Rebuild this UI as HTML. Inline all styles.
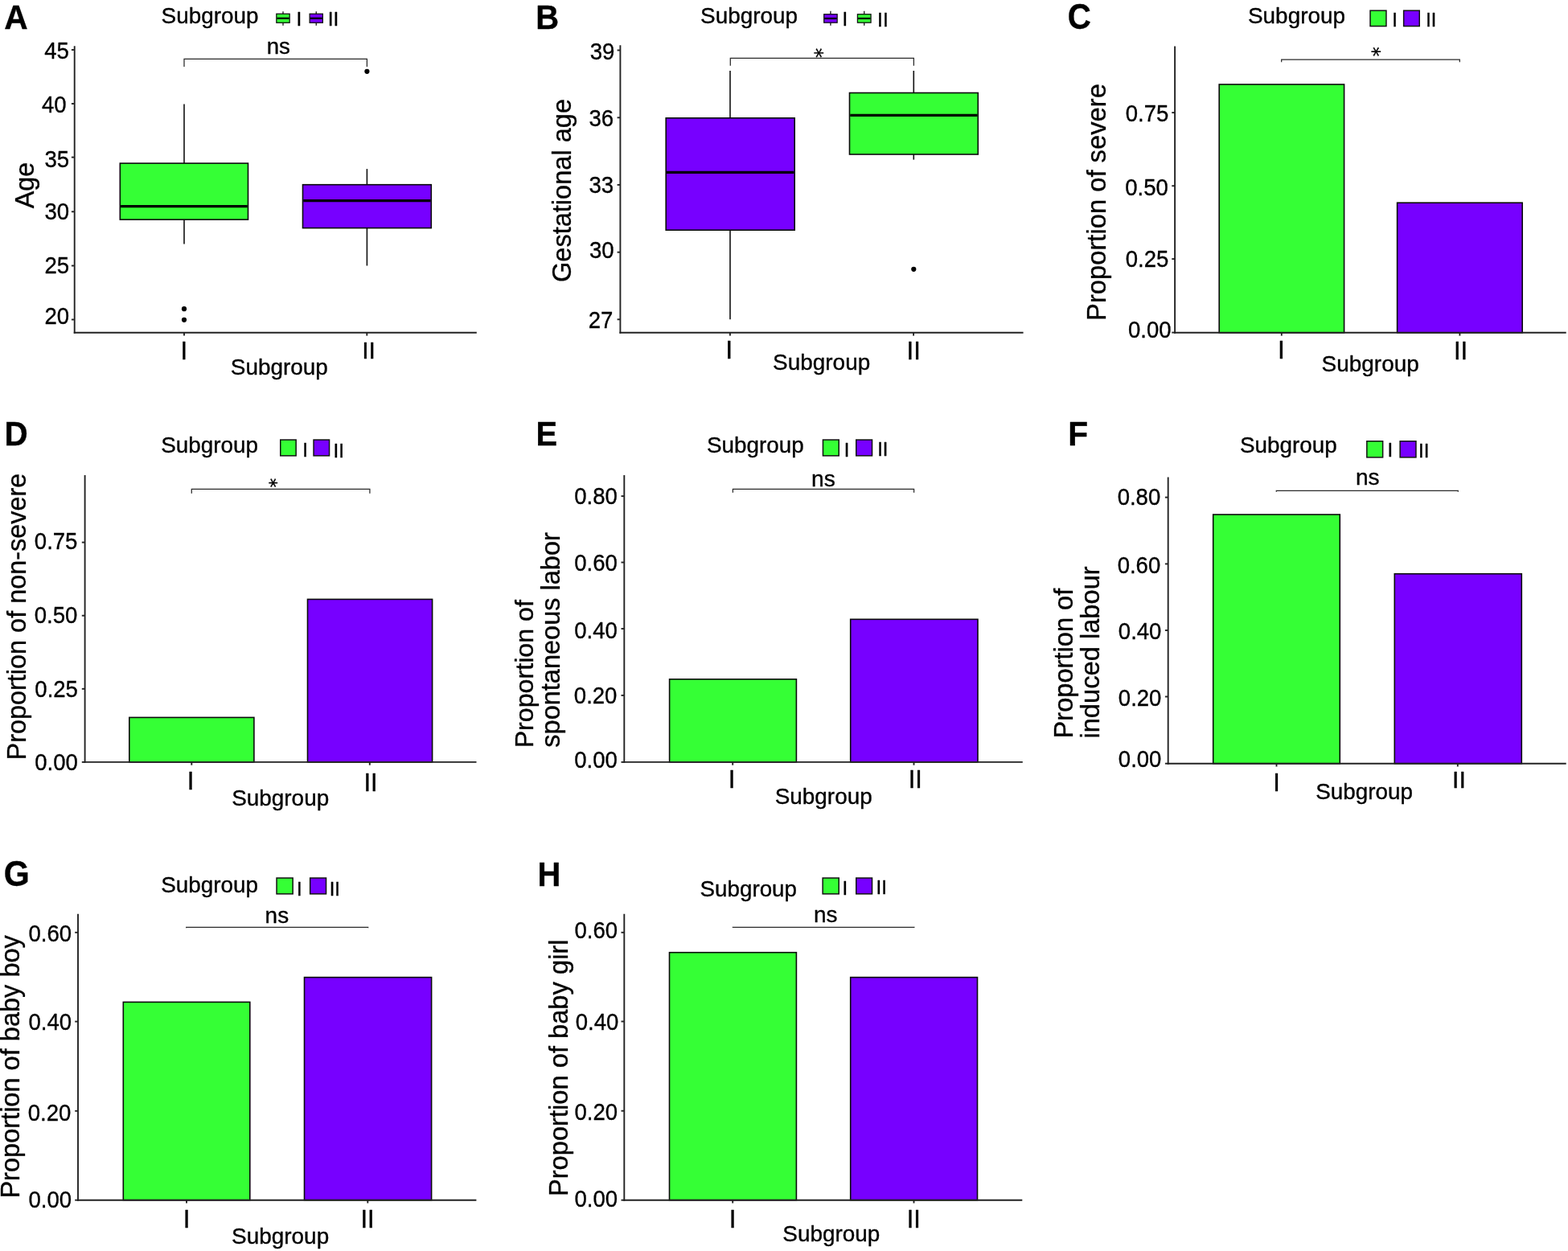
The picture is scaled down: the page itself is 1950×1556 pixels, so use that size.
<!DOCTYPE html>
<html><head><meta charset="utf-8"><title>Figure</title><style>html,body{margin:0;padding:0;background:#fff;overflow:hidden;}svg{display:block;}text{stroke:#000;stroke-width:0.35px;stroke-linejoin:round;font-kerning:none;font-family:"Liberation Sans",Arial,sans-serif;}</style></head><body>
<svg width="1950" height="1556" viewBox="0 0 1950 1556" font-family="'Liberation Sans', Arial, sans-serif" fill="#000">
<rect width="1950" height="1556" fill="#fff"/>
<g id="panelA">
<line x1="229.00" y1="129.60" x2="229.00" y2="203.10" stroke="#111" stroke-width="1.6"/>
<line x1="229.00" y1="273.10" x2="229.00" y2="303.50" stroke="#111" stroke-width="1.6"/>
<rect x="149.30" y="203.10" width="159.20" height="70.00" fill="#35FF35" stroke="#0a0a0a" stroke-width="1.6"/>
<line x1="150.10" y1="256.70" x2="307.70" y2="256.70" stroke="#000" stroke-width="3.2"/>
<circle cx="229.00" cy="384.20" r="3.1" fill="#000"/>
<circle cx="229.00" cy="397.80" r="3.1" fill="#000"/>
<line x1="456.40" y1="210.10" x2="456.40" y2="229.70" stroke="#111" stroke-width="1.6"/>
<line x1="456.40" y1="283.60" x2="456.40" y2="330.50" stroke="#111" stroke-width="1.6"/>
<rect x="376.50" y="229.70" width="159.80" height="53.90" fill="#7700FF" stroke="#0a0a0a" stroke-width="1.6"/>
<line x1="377.30" y1="249.70" x2="535.50" y2="249.70" stroke="#000" stroke-width="3.2"/>
<circle cx="456.40" cy="88.80" r="3.1" fill="#000"/>
<line x1="92.70" y1="57.20" x2="92.70" y2="414.75" stroke="#222" stroke-width="1.9"/>
<line x1="91.75" y1="413.80" x2="592.80" y2="413.80" stroke="#222" stroke-width="1.9"/>
<line x1="88.90" y1="62.00" x2="92.70" y2="62.00" stroke="#222" stroke-width="1.9"/>
<text transform="translate(55.30,72.92) scale(0.9570,1)" font-size="28.80">45</text>
<line x1="88.90" y1="129.00" x2="92.70" y2="129.00" stroke="#222" stroke-width="1.9"/>
<text transform="translate(51.92,139.76) scale(0.9570,1)" font-size="28.80">40</text>
<line x1="88.90" y1="195.60" x2="92.70" y2="195.60" stroke="#222" stroke-width="1.9"/>
<text transform="translate(55.50,208.06) scale(0.9570,1)" font-size="28.80">35</text>
<line x1="88.90" y1="263.30" x2="92.70" y2="263.30" stroke="#222" stroke-width="1.9"/>
<text transform="translate(55.42,272.86) scale(0.9570,1)" font-size="28.80">30</text>
<line x1="88.90" y1="330.50" x2="92.70" y2="330.50" stroke="#222" stroke-width="1.9"/>
<text transform="translate(55.50,339.56) scale(0.9570,1)" font-size="28.80">25</text>
<line x1="88.90" y1="397.50" x2="92.70" y2="397.50" stroke="#222" stroke-width="1.9"/>
<text transform="translate(55.42,403.16) scale(0.9570,1)" font-size="28.80">20</text>
<line x1="229.00" y1="413.80" x2="229.00" y2="417.60" stroke="#222" stroke-width="1.9"/>
<line x1="456.30" y1="413.80" x2="456.30" y2="417.60" stroke="#222" stroke-width="1.9"/>
<text x="224.41" y="447.22" font-size="30.89">I</text>
<text x="450.22" y="446.02" font-size="30.16">II</text>
<path d="M229.00,82.90 L229.00,73.40 L456.40,73.40 L456.40,82.90" fill="none" stroke="#2a2a2a" stroke-width="1.25"/>
<text transform="translate(331.74,66.96) scale(1.0263,1)" font-size="26.92">ns</text>
<text transform="translate(200.61,28.64) scale(1.0169,1)" font-size="27.41">Subgroup</text>
<line x1="352.00" y1="14.20" x2="352.00" y2="31.80" stroke="#111" stroke-width="1.3"/>
<rect x="343.85" y="17.25" width="16.30" height="11.00" fill="#35FF35" stroke="#111" stroke-width="1.3"/>
<line x1="344.40" y1="22.75" x2="359.60" y2="22.75" stroke="#000" stroke-width="2.2"/>
<text x="368.50" y="32.43" font-size="24.49">I</text>
<line x1="393.25" y1="14.20" x2="393.25" y2="31.80" stroke="#111" stroke-width="1.3"/>
<rect x="385.15" y="17.25" width="16.20" height="11.00" fill="#7700FF" stroke="#111" stroke-width="1.3"/>
<line x1="385.70" y1="22.75" x2="400.80" y2="22.75" stroke="#000" stroke-width="2.2"/>
<text x="407.65" y="32.43" font-size="24.49">II</text>
<text transform="translate(5.36,35.73) scale(0.9427,1)" font-size="43.24" font-weight="bold">A</text>
<text transform="translate(286.81,465.54) scale(1.0178,1)" font-size="27.41">Subgroup</text>
<text transform="translate(42.40,259.29) rotate(-90)" font-size="32.29">Age</text>
</g>
<g id="panelB">
<line x1="908.00" y1="88.00" x2="908.00" y2="146.80" stroke="#111" stroke-width="1.6"/>
<line x1="908.00" y1="286.20" x2="908.00" y2="397.20" stroke="#111" stroke-width="1.6"/>
<rect x="828.20" y="146.80" width="160.00" height="139.40" fill="#7700FF" stroke="#0a0a0a" stroke-width="1.6"/>
<line x1="829.00" y1="214.40" x2="987.40" y2="214.40" stroke="#000" stroke-width="3.2"/>
<line x1="1136.30" y1="88.00" x2="1136.30" y2="115.50" stroke="#111" stroke-width="1.6"/>
<line x1="1136.30" y1="192.00" x2="1136.30" y2="198.60" stroke="#111" stroke-width="1.6"/>
<rect x="1056.50" y="115.50" width="159.80" height="76.50" fill="#35FF35" stroke="#0a0a0a" stroke-width="1.6"/>
<line x1="1057.30" y1="143.40" x2="1215.50" y2="143.40" stroke="#000" stroke-width="3.2"/>
<circle cx="1136.30" cy="334.80" r="3.1" fill="#000"/>
<line x1="771.40" y1="56.30" x2="771.40" y2="414.75" stroke="#222" stroke-width="1.9"/>
<line x1="770.45" y1="413.80" x2="1272.60" y2="413.80" stroke="#222" stroke-width="1.9"/>
<line x1="767.60" y1="62.50" x2="771.40" y2="62.50" stroke="#222" stroke-width="1.9"/>
<text transform="translate(733.75,74.16) scale(0.9570,1)" font-size="28.80">39</text>
<line x1="767.60" y1="146.30" x2="771.40" y2="146.30" stroke="#222" stroke-width="1.9"/>
<text transform="translate(732.45,157.16) scale(0.9570,1)" font-size="28.80">36</text>
<line x1="767.60" y1="229.90" x2="771.40" y2="229.90" stroke="#222" stroke-width="1.9"/>
<text transform="translate(732.45,240.36) scale(0.9570,1)" font-size="28.80">33</text>
<line x1="767.60" y1="313.70" x2="771.40" y2="313.70" stroke="#222" stroke-width="1.9"/>
<text transform="translate(732.92,321.06) scale(0.9570,1)" font-size="28.80">30</text>
<line x1="767.60" y1="397.30" x2="771.40" y2="397.30" stroke="#222" stroke-width="1.9"/>
<text transform="translate(731.63,407.50) scale(0.9570,1)" font-size="28.80">27</text>
<line x1="907.90" y1="413.80" x2="907.90" y2="417.60" stroke="#222" stroke-width="1.9"/>
<line x1="1136.10" y1="413.80" x2="1136.10" y2="417.60" stroke="#222" stroke-width="1.9"/>
<text x="902.32" y="445.72" font-size="31.90">I</text>
<text x="1127.54" y="446.72" font-size="31.18">II</text>
<path d="M908.30,81.70 L908.30,72.40 L1136.40,72.40 L1136.40,81.70" fill="none" stroke="#2a2a2a" stroke-width="1.25"/>
<text transform="translate(1018.80,65.85) rotate(90)" x="-6.13" y="12.61" font-size="24.53" style="font-family:'DejaVu Sans',sans-serif">*</text>
<text transform="translate(871.11,29.08) scale(1.0249,1)" font-size="27.20">Subgroup</text>
<line x1="1032.95" y1="13.80" x2="1032.95" y2="31.80" stroke="#111" stroke-width="1.3"/>
<rect x="1024.75" y="17.75" width="16.40" height="10.40" fill="#7700FF" stroke="#111" stroke-width="1.3"/>
<line x1="1025.30" y1="22.95" x2="1040.60" y2="22.95" stroke="#000" stroke-width="2.2"/>
<text x="1047.56" y="32.12" font-size="24.06">I</text>
<line x1="1074.75" y1="13.80" x2="1074.75" y2="31.80" stroke="#111" stroke-width="1.3"/>
<rect x="1066.45" y="17.75" width="16.60" height="10.40" fill="#35FF35" stroke="#111" stroke-width="1.3"/>
<line x1="1067.00" y1="22.95" x2="1082.50" y2="22.95" stroke="#000" stroke-width="2.2"/>
<text x="1091.10" y="33.43" font-size="24.49">II</text>
<text transform="translate(666.30,35.53) scale(0.9233,1)" font-size="43.24" font-weight="bold">B</text>
<text transform="translate(961.11,460.16) scale(1.0226,1)" font-size="27.30">Subgroup</text>
<text transform="translate(710.10,351.06) rotate(-90)" font-size="32.57">Gestational age</text>
</g>
<g id="panelC">
<rect x="1516.20" y="105.00" width="155.40" height="308.80" fill="#35FF35" stroke="#0a0a0a" stroke-width="1.6"/>
<rect x="1737.60" y="252.20" width="155.60" height="161.60" fill="#7700FF" stroke="#0a0a0a" stroke-width="1.6"/>
<line x1="1461.10" y1="57.40" x2="1461.10" y2="414.75" stroke="#222" stroke-width="1.9"/>
<line x1="1460.15" y1="413.80" x2="1947.70" y2="413.80" stroke="#222" stroke-width="1.9"/>
<line x1="1457.30" y1="413.60" x2="1461.10" y2="413.60" stroke="#222" stroke-width="1.9"/>
<text transform="translate(1402.93,419.91) scale(0.9570,1)" font-size="28.80">0.00</text>
<line x1="1457.30" y1="322.10" x2="1461.10" y2="322.10" stroke="#222" stroke-width="1.9"/>
<text transform="translate(1399.71,332.21) scale(0.9570,1)" font-size="28.80">0.25</text>
<line x1="1457.30" y1="231.20" x2="1461.10" y2="231.20" stroke="#222" stroke-width="1.9"/>
<text transform="translate(1399.23,242.86) scale(0.9570,1)" font-size="28.80">0.50</text>
<line x1="1457.30" y1="140.10" x2="1461.10" y2="140.10" stroke="#222" stroke-width="1.9"/>
<text transform="translate(1399.71,150.51) scale(0.9570,1)" font-size="28.80">0.75</text>
<line x1="1593.80" y1="413.80" x2="1593.80" y2="417.60" stroke="#222" stroke-width="1.9"/>
<line x1="1815.40" y1="413.80" x2="1815.40" y2="417.60" stroke="#222" stroke-width="1.9"/>
<text x="1589.02" y="445.72" font-size="31.90">I</text>
<text x="1807.89" y="446.72" font-size="31.18">II</text>
<path d="M1593.70,77.30 L1593.70,74.00 L1815.30,74.00 L1815.30,77.30" fill="none" stroke="#2a2a2a" stroke-width="1.25"/>
<text transform="translate(1711.00,64.15) rotate(90)" x="-6.02" y="12.39" font-size="24.09" style="font-family:'DejaVu Sans',sans-serif">*</text>
<text transform="translate(1552.01,29.17) scale(1.0422,1)" font-size="26.77">Subgroup</text>
<rect x="1704.05" y="13.15" width="19.90" height="19.40" fill="#35FF35" stroke="#111" stroke-width="1.5"/>
<text x="1731.33" y="32.93" font-size="23.91">I</text>
<rect x="1745.65" y="13.15" width="19.60" height="19.40" fill="#7700FF" stroke="#111" stroke-width="1.5"/>
<text x="1773.32" y="32.53" font-size="23.33">II</text>
<text transform="translate(1327.82,36.29) scale(0.9073,1)" font-size="44.42" font-weight="bold">C</text>
<text transform="translate(1643.61,461.77) scale(1.0440,1)" font-size="26.77">Subgroup</text>
<text transform="translate(1374.50,398.91) rotate(-90)" font-size="32.74">Proportion of severe</text>
</g>
<g id="panelD">
<rect x="160.80" y="892.40" width="155.10" height="55.50" fill="#35FF35" stroke="#0a0a0a" stroke-width="1.6"/>
<rect x="382.50" y="745.40" width="155.10" height="202.50" fill="#7700FF" stroke="#0a0a0a" stroke-width="1.6"/>
<line x1="105.60" y1="591.00" x2="105.60" y2="948.85" stroke="#222" stroke-width="1.9"/>
<line x1="104.65" y1="947.90" x2="592.50" y2="947.90" stroke="#222" stroke-width="1.9"/>
<line x1="101.80" y1="674.60" x2="105.60" y2="674.60" stroke="#222" stroke-width="1.9"/>
<text transform="translate(42.81,683.16) scale(0.9570,1)" font-size="28.80">0.75</text>
<line x1="101.80" y1="765.70" x2="105.60" y2="765.70" stroke="#222" stroke-width="1.9"/>
<text transform="translate(42.73,775.46) scale(0.9570,1)" font-size="28.80">0.50</text>
<line x1="101.80" y1="856.80" x2="105.60" y2="856.80" stroke="#222" stroke-width="1.9"/>
<text transform="translate(43.31,867.11) scale(0.9570,1)" font-size="28.80">0.25</text>
<line x1="101.80" y1="947.90" x2="105.60" y2="947.90" stroke="#222" stroke-width="1.9"/>
<text transform="translate(43.23,957.76) scale(0.9570,1)" font-size="28.80">0.00</text>
<line x1="238.30" y1="947.90" x2="238.30" y2="951.70" stroke="#222" stroke-width="1.9"/>
<line x1="459.80" y1="947.90" x2="459.80" y2="951.70" stroke="#222" stroke-width="1.9"/>
<text x="232.67" y="981.73" font-size="31.18">I</text>
<text x="452.51" y="984.43" font-size="30.74">II</text>
<path d="M238.30,613.70 L238.30,608.30 L459.90,608.30 L459.90,613.70" fill="none" stroke="#2a2a2a" stroke-width="1.25"/>
<text transform="translate(339.70,600.45) rotate(90)" x="-5.80" y="11.92" font-size="23.19" style="font-family:'DejaVu Sans',sans-serif">*</text>
<text transform="translate(200.21,563.41) scale(1.0121,1)" font-size="27.52">Subgroup</text>
<rect x="348.75" y="547.05" width="19.40" height="19.80" fill="#35FF35" stroke="#111" stroke-width="1.5"/>
<text x="376.13" y="568.23" font-size="23.91">I</text>
<rect x="390.05" y="547.05" width="19.50" height="19.80" fill="#7700FF" stroke="#111" stroke-width="1.5"/>
<text x="414.59" y="568.53" font-size="24.35">II</text>
<text transform="translate(5.42,553.58) scale(0.9463,1)" font-size="42.73" font-weight="bold">D</text>
<text transform="translate(288.21,1001.90) scale(1.0299,1)" font-size="27.09">Subgroup</text>
<text transform="translate(31.80,945.49) rotate(-90)" font-size="32.43">Proportion of non-severe</text>
</g>
<g id="panelE">
<rect x="832.60" y="844.80" width="157.80" height="103.10" fill="#35FF35" stroke="#0a0a0a" stroke-width="1.6"/>
<rect x="1057.70" y="770.30" width="158.30" height="177.60" fill="#7700FF" stroke="#0a0a0a" stroke-width="1.6"/>
<line x1="776.30" y1="591.00" x2="776.30" y2="948.85" stroke="#222" stroke-width="1.9"/>
<line x1="775.35" y1="947.90" x2="1271.80" y2="947.90" stroke="#222" stroke-width="1.9"/>
<line x1="772.50" y1="617.10" x2="776.30" y2="617.10" stroke="#222" stroke-width="1.9"/>
<text transform="translate(714.23,627.31) scale(0.9570,1)" font-size="28.80">0.80</text>
<line x1="772.50" y1="699.50" x2="776.30" y2="699.50" stroke="#222" stroke-width="1.9"/>
<text transform="translate(714.23,710.06) scale(0.9570,1)" font-size="28.80">0.60</text>
<line x1="772.50" y1="782.00" x2="776.30" y2="782.00" stroke="#222" stroke-width="1.9"/>
<text transform="translate(714.23,793.56) scale(0.9570,1)" font-size="28.80">0.40</text>
<line x1="772.50" y1="864.90" x2="776.30" y2="864.90" stroke="#222" stroke-width="1.9"/>
<text transform="translate(713.83,874.66) scale(0.9570,1)" font-size="28.80">0.20</text>
<line x1="772.50" y1="947.90" x2="776.30" y2="947.90" stroke="#222" stroke-width="1.9"/>
<text transform="translate(714.23,955.16) scale(0.9570,1)" font-size="28.80">0.00</text>
<line x1="911.20" y1="947.90" x2="911.20" y2="951.70" stroke="#222" stroke-width="1.9"/>
<line x1="1136.50" y1="947.90" x2="1136.50" y2="951.70" stroke="#222" stroke-width="1.9"/>
<text x="905.82" y="979.73" font-size="31.18">I</text>
<text x="1129.71" y="980.33" font-size="30.74">II</text>
<path d="M911.40,612.70 L911.40,608.30 L1136.60,608.30 L1136.60,612.70" fill="none" stroke="#2a2a2a" stroke-width="1.25"/>
<text transform="translate(1009.01,604.56) scale(1.0458,1)" font-size="26.92">ns</text>
<text transform="translate(878.91,563.41) scale(1.0121,1)" font-size="27.52">Subgroup</text>
<rect x="1023.45" y="547.05" width="19.80" height="19.80" fill="#35FF35" stroke="#111" stroke-width="1.5"/>
<text x="1049.87" y="567.53" font-size="23.62">I</text>
<rect x="1064.75" y="547.05" width="19.80" height="19.80" fill="#7700FF" stroke="#111" stroke-width="1.5"/>
<text x="1091.20" y="566.53" font-size="23.76">II</text>
<text transform="translate(666.47,553.58) scale(0.9339,1)" font-size="42.73" font-weight="bold">E</text>
<text transform="translate(963.71,999.63) scale(1.0340,1)" font-size="26.98">Subgroup</text>
<text transform="translate(662.90,930.36) rotate(-90)" font-size="32.18">Proportion of</text>
<text transform="translate(695.80,929.63) rotate(-90)" font-size="32.50">spontaneous labor</text>
</g>
<g id="panelF">
<rect x="1508.70" y="640.00" width="157.60" height="309.70" fill="#35FF35" stroke="#0a0a0a" stroke-width="1.6"/>
<rect x="1734.30" y="713.70" width="158.00" height="236.00" fill="#7700FF" stroke="#0a0a0a" stroke-width="1.6"/>
<line x1="1452.70" y1="593.40" x2="1452.70" y2="950.65" stroke="#222" stroke-width="1.9"/>
<line x1="1451.75" y1="949.70" x2="1947.70" y2="949.70" stroke="#222" stroke-width="1.9"/>
<line x1="1448.90" y1="618.60" x2="1452.70" y2="618.60" stroke="#222" stroke-width="1.9"/>
<text transform="translate(1389.63,628.01) scale(0.9570,1)" font-size="28.80">0.80</text>
<line x1="1448.90" y1="701.40" x2="1452.70" y2="701.40" stroke="#222" stroke-width="1.9"/>
<text transform="translate(1389.63,712.51) scale(0.9570,1)" font-size="28.80">0.60</text>
<line x1="1448.90" y1="784.00" x2="1452.70" y2="784.00" stroke="#222" stroke-width="1.9"/>
<text transform="translate(1390.83,794.86) scale(0.9570,1)" font-size="28.80">0.40</text>
<line x1="1448.90" y1="866.50" x2="1452.70" y2="866.50" stroke="#222" stroke-width="1.9"/>
<text transform="translate(1390.83,877.56) scale(0.9570,1)" font-size="28.80">0.20</text>
<line x1="1448.90" y1="949.70" x2="1452.70" y2="949.70" stroke="#222" stroke-width="1.9"/>
<text transform="translate(1390.83,953.86) scale(0.9570,1)" font-size="28.80">0.00</text>
<line x1="1587.50" y1="949.70" x2="1587.50" y2="953.50" stroke="#222" stroke-width="1.9"/>
<line x1="1812.80" y1="949.70" x2="1812.80" y2="953.50" stroke="#222" stroke-width="1.9"/>
<text x="1583.36" y="983.73" font-size="30.89">I</text>
<text x="1806.08" y="980.03" font-size="30.31">II</text>
<path d="M1587.30,611.70 L1587.30,610.30 L1813.30,610.30 L1813.30,611.70" fill="none" stroke="#2a2a2a" stroke-width="1.25"/>
<text transform="translate(1685.91,602.56) scale(1.0280,1)" font-size="27.29">ns</text>
<text transform="translate(1542.01,563.41) scale(1.0112,1)" font-size="27.52">Subgroup</text>
<rect x="1699.85" y="548.75" width="19.80" height="20.10" fill="#35FF35" stroke="#111" stroke-width="1.5"/>
<text x="1725.59" y="567.53" font-size="24.20">I</text>
<rect x="1741.15" y="548.75" width="19.80" height="20.10" fill="#7700FF" stroke="#111" stroke-width="1.5"/>
<text x="1763.97" y="568.73" font-size="24.06">II</text>
<text transform="translate(1328.25,553.58) scale(0.9525,1)" font-size="42.73" font-weight="bold">F</text>
<text transform="translate(1636.21,994.07) scale(1.0405,1)" font-size="26.77">Subgroup</text>
<text transform="translate(1334.20,918.40) rotate(-90)" font-size="32.62">Proportion of</text>
<text transform="translate(1367.20,918.61) rotate(-90)" font-size="32.68">induced labour</text>
</g>
<g id="panelG">
<rect x="153.30" y="1246.40" width="157.50" height="246.30" fill="#35FF35" stroke="#0a0a0a" stroke-width="1.6"/>
<rect x="378.50" y="1215.60" width="158.10" height="277.10" fill="#7700FF" stroke="#0a0a0a" stroke-width="1.6"/>
<line x1="97.00" y1="1136.80" x2="97.00" y2="1493.65" stroke="#222" stroke-width="1.9"/>
<line x1="96.05" y1="1492.70" x2="592.40" y2="1492.70" stroke="#222" stroke-width="1.9"/>
<line x1="93.20" y1="1159.80" x2="97.00" y2="1159.80" stroke="#222" stroke-width="1.9"/>
<text transform="translate(35.43,1170.81) scale(0.9570,1)" font-size="28.80">0.60</text>
<line x1="93.20" y1="1270.60" x2="97.00" y2="1270.60" stroke="#222" stroke-width="1.9"/>
<text transform="translate(35.43,1281.06) scale(0.9570,1)" font-size="28.80">0.40</text>
<line x1="93.20" y1="1381.80" x2="97.00" y2="1381.80" stroke="#222" stroke-width="1.9"/>
<text transform="translate(34.73,1393.51) scale(0.9570,1)" font-size="28.80">0.20</text>
<line x1="93.20" y1="1492.70" x2="97.00" y2="1492.70" stroke="#222" stroke-width="1.9"/>
<text transform="translate(35.43,1502.31) scale(0.9570,1)" font-size="28.80">0.00</text>
<line x1="232.00" y1="1492.70" x2="232.00" y2="1496.50" stroke="#222" stroke-width="1.9"/>
<line x1="457.30" y1="1492.70" x2="457.30" y2="1496.50" stroke="#222" stroke-width="1.9"/>
<text x="227.75" y="1527.23" font-size="31.32">I</text>
<text x="448.52" y="1527.23" font-size="30.89">II</text>
<path d="M231.70,1154.30 L231.70,1153.30 L457.70,1153.30 L457.70,1154.30" fill="none" stroke="#2a2a2a" stroke-width="1.25"/>
<text transform="translate(329.62,1148.26) scale(1.0173,1)" font-size="27.47">ns</text>
<text transform="translate(200.21,1110.26) scale(1.0200,1)" font-size="27.30">Subgroup</text>
<rect x="344.05" y="1092.05" width="20.10" height="19.80" fill="#35FF35" stroke="#111" stroke-width="1.5"/>
<text x="368.90" y="1114.42" font-size="23.76">I</text>
<rect x="385.65" y="1092.05" width="19.90" height="19.80" fill="#7700FF" stroke="#111" stroke-width="1.5"/>
<text x="409.65" y="1113.53" font-size="23.76">II</text>
<text transform="translate(4.69,1101.69) scale(0.9287,1)" font-size="44.28" font-weight="bold">G</text>
<text transform="translate(288.11,1546.97) scale(1.0431,1)" font-size="26.77">Subgroup</text>
<text transform="translate(24.00,1490.59) rotate(-90)" font-size="32.55">Proportion of baby boy</text>
</g>
<g id="panelH">
<rect x="832.50" y="1184.70" width="157.90" height="308.00" fill="#35FF35" stroke="#0a0a0a" stroke-width="1.6"/>
<rect x="1057.70" y="1215.60" width="157.80" height="277.10" fill="#7700FF" stroke="#0a0a0a" stroke-width="1.6"/>
<line x1="776.30" y1="1136.80" x2="776.30" y2="1493.65" stroke="#222" stroke-width="1.9"/>
<line x1="775.35" y1="1492.70" x2="1271.30" y2="1492.70" stroke="#222" stroke-width="1.9"/>
<line x1="772.50" y1="1159.80" x2="776.30" y2="1159.80" stroke="#222" stroke-width="1.9"/>
<text transform="translate(714.43,1166.81) scale(0.9570,1)" font-size="28.80">0.60</text>
<line x1="772.50" y1="1270.50" x2="776.30" y2="1270.50" stroke="#222" stroke-width="1.9"/>
<text transform="translate(715.73,1280.71) scale(0.9570,1)" font-size="28.80">0.40</text>
<line x1="772.50" y1="1381.70" x2="776.30" y2="1381.70" stroke="#222" stroke-width="1.9"/>
<text transform="translate(714.43,1393.46) scale(0.9570,1)" font-size="28.80">0.20</text>
<line x1="772.50" y1="1492.70" x2="776.30" y2="1492.70" stroke="#222" stroke-width="1.9"/>
<text transform="translate(714.43,1501.01) scale(0.9570,1)" font-size="28.80">0.00</text>
<line x1="911.20" y1="1492.70" x2="911.20" y2="1496.50" stroke="#222" stroke-width="1.9"/>
<line x1="1136.50" y1="1492.70" x2="1136.50" y2="1496.50" stroke="#222" stroke-width="1.9"/>
<text x="906.65" y="1527.23" font-size="31.32">I</text>
<text x="1127.76" y="1526.83" font-size="30.74">II</text>
<path d="M911.30,1153.80 L911.30,1153.30 L1137.00,1153.30 L1137.00,1153.80" fill="none" stroke="#2a2a2a" stroke-width="1.25"/>
<text transform="translate(1012.02,1147.26) scale(1.0173,1)" font-size="27.47">ns</text>
<text transform="translate(870.61,1114.50) scale(1.0246,1)" font-size="27.09">Subgroup</text>
<rect x="1023.15" y="1092.05" width="20.10" height="19.80" fill="#35FF35" stroke="#111" stroke-width="1.5"/>
<text x="1047.44" y="1112.53" font-size="24.20">I</text>
<rect x="1064.75" y="1092.05" width="19.80" height="19.80" fill="#7700FF" stroke="#111" stroke-width="1.5"/>
<text x="1089.48" y="1111.53" font-size="24.20">II</text>
<text transform="translate(668.50,1101.53) scale(0.9307,1)" font-size="42.95" font-weight="bold">H</text>
<text transform="translate(973.31,1543.88) scale(1.0267,1)" font-size="27.20">Subgroup</text>
<text transform="translate(706.20,1488.11) rotate(-90)" font-size="32.69">Proportion of baby girl</text>
</g>
</svg>
</body></html>
